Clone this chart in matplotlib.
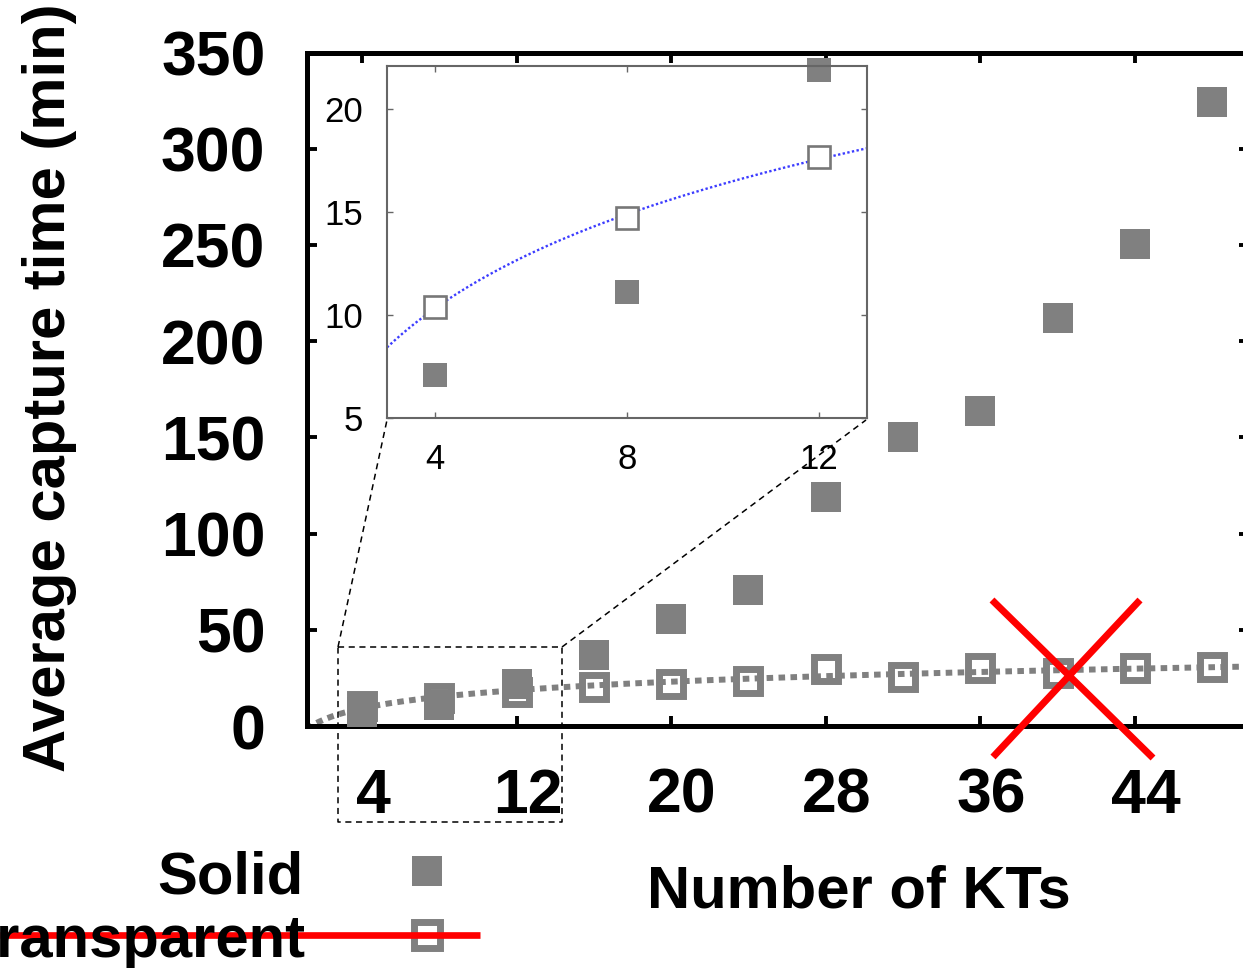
import numpy as np
import matplotlib.pyplot as plt
import matplotlib.transforms as mtransforms

plt.rcParams['font.family'] = ['Liberation Sans', 'DejaVu Sans']

# data
kts = [4, 8, 12, 16, 20, 24, 28, 32, 36, 40, 44, 48]
solid = [7.1, 11.1, 21.9, 37, 55.6, 70.7, 119, 150, 163.7, 212, 250.6, 324.4]
transparent = [10.4, 14.7, 17.7, 20.3, 21.8, 23.5, 29.6, 25.6, 30.4, 27.4, 30, 30.7]
x_ticks = [4, 12, 20, 28, 36, 44]
y_ticks = [0, 50, 100, 150, 200, 250, 300, 350]
inset_x_ticks = [4, 8, 12]
inset_y_ticks = [5, 10, 15, 20]

GRAY = '#808080'
W, H = 1243, 968

fig = plt.figure(figsize=(W / 100, H / 100), dpi=100)


def px_box(l, t, r, b):
    return [l / W, 1 - b / H, (r - l) / W, (b - t) / H]


kts_a = np.array(kts, dtype=float)
tr_a = np.array(transparent)

# main axes (right edge runs past the figure border like in the reference)
ax = fig.add_axes(px_box(306.5, 52.5, 1248.8, 726))
b_all, a_all = np.polyfit(np.log(kts_a), tr_a, 1)
xf = np.linspace(1.13, 49.9, 300)
ax.plot(xf, a_all + b_all * np.log(xf), color=GRAY, lw=4.3,
        ls=(0, (1.1, 0.9)), dash_capstyle='butt', zorder=2)
ax.plot(kts, solid, 's', color=GRAY, ms=21.6, mew=0, zorder=3, clip_on=False)
ax.plot(kts, transparent, 's', mfc='none', mec=GRAY, ms=16.6, mew=5,
        zorder=4, clip_on=False)
ax.set_xlim(1.13, 49.9)
ax.set_ylim(0, 350)
ax.set_xticks(x_ticks)
ax.set_yticks(y_ticks)
ax.tick_params(direction='in', length=7, width=2.8, top=True, right=True,
               labelsize=45, pad=29.5)
for lab in ax.get_xticklabels() + ax.get_yticklabels():
    lab.set_fontweight('bold')
shift = mtransforms.ScaledTranslation(11 / 100, 0, fig.dpi_scale_trans)
for lab in ax.get_xticklabels():
    lab.set_transform(lab.get_transform() + shift)
for s in ax.spines.values():
    s.set_linewidth(3.6)

fig.text(858.5 / W, 1 - 908 / H, 'Number of KTs', ha='center', va='baseline',
         fontsize=43, fontweight='bold')
fig.text(50 / W, 1 - 388 / H, 'Average capture time (min)', rotation=90,
         ha='center', va='center', fontsize=43, fontweight='bold')

# inset for the first three KT counts
ins = fig.add_axes(px_box(387, 66, 867, 418))
ins.set_zorder(5)
n_in = sum(1 for k in kts if k <= 12)
b_in, a_in = np.polyfit(np.log(kts_a[:n_in]), tr_a[:n_in], 1)
xi = np.linspace(3, 13, 200)
ins.plot(xi, a_in + b_in * np.log(xi), color='#3c3cff', lw=1.7, ls=(0, (1, 1)))
ins.plot(kts[:n_in], solid[:n_in], 's', color=GRAY, ms=16.6, mew=0, clip_on=False)
ins.plot(kts[:n_in], transparent[:n_in], 's', mfc='white', mec='#777777',
         ms=16.2, mew=1.9, clip_on=False)
ins.set_xlim(3, 13)
ins.set_ylim(5, 22.1)
ins.set_xticks(inset_x_ticks)
ins.set_yticks(inset_y_ticks)
ins.tick_params(direction='in', length=4, width=1, color='#666666',
                top=True, right=True, labelsize=25)
ins.tick_params(axis='x', pad=18)
ins.tick_params(axis='y', pad=17)
for s in ins.spines.values():
    s.set_linewidth(1.5)
    s.set_color('#666666')

# overlay in pixel coordinates: zoom box, connectors, red marks, legend
ov = fig.add_axes([0, 0, 1, 1])
ov.set_xlim(0, W)
ov.set_ylim(H, 0)
ov.axis('off')
ov.set_zorder(10)
ov.patch.set_visible(False)

dash = dict(color='black', lw=1.1, ls=(0, (4, 3)))
ov.plot([338, 562, 562, 338, 338], [647, 647, 822, 822, 647], **dash)
ov.plot([338, 387], [647, 420], **dash)
ov.plot([562, 866], [647, 420], **dash)

ov.plot([992, 1153], [600, 758], color='red', lw=5, solid_capstyle='butt')
ov.plot([1140, 993], [600, 757], color='red', lw=5, solid_capstyle='butt')

ov.text(303, 893, 'Solid', ha='right', va='baseline', fontsize=43, fontweight='bold')
ov.text(305, 957, 'Transparent', ha='right', va='baseline', fontsize=43,
        fontweight='bold')
ov.plot([427.5], [871], 's', color=GRAY, ms=20.9, mew=0)
ov.plot([427], [935], 's', mfc='none', mec=GRAY, ms=18.7, mew=5)
ov.plot([0, 480], [935, 935], color='red', lw=4.8, solid_capstyle='butt')

fig.savefig('out.png', dpi=100)
